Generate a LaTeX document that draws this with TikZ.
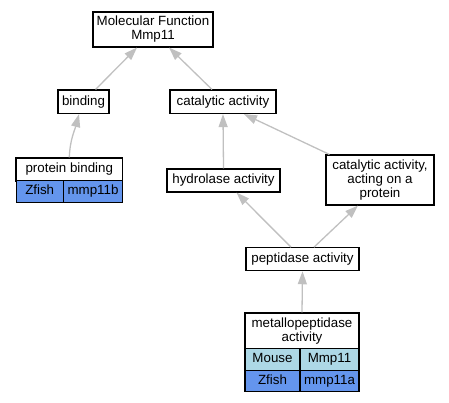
\documentclass[tikz,border=0pt]{standalone}
\usepackage{fontspec}
\setmainfont{Liberation Sans}
\usetikzlibrary{arrows.meta}
\definecolor{edgegray}{RGB}{192,192,192}
\definecolor{mousecol}{RGB}{173,216,230}
\definecolor{zfishcol}{RGB}{100,149,237}
\begin{document}
\begin{tikzpicture}[x=1pt,y=1pt]
\tikzstyle{every node}+=[inner sep=0pt, font=\fontsize{13.33}{14}\selectfont]
\tikzstyle{term}=[draw=black, fill=white, line width=1.1pt, align=center]
\tikzstyle{cell}=[draw=black, line width=1.1pt, minimum height=21.5pt, text height=9.6pt, text depth=2.8pt]
\tikzstyle{isa}=[draw=edgegray, line width=1.3pt, -{Triangle[length=13pt,width=9pt]}]
\useasboundingbox (0,0) rectangle (449,-403);
% terms
\draw (153,-29.5) node [term, minimum width=120pt, minimum height=35pt] (mf) {Molecular Function\\Mmp11};
\draw (83.5,-101.8) node [term, minimum width=51pt, minimum height=23.5pt] (bind) {binding};
\draw (223,-101.8) node [term, minimum width=106pt, minimum height=23.5pt] (cat) {catalytic activity};
\draw (69.3,-169.5) node [term, minimum width=106.7pt, minimum height=23pt] (pb) {protein binding};
\draw (39.7,-191.5) node [cell, fill=zfishcol, minimum width=47.3pt] (pbz) {Zfish};
\draw (93,-191.5) node [cell, fill=zfishcol, minimum width=59.4pt] (pbg) {mmp11b};
\draw (223.5,-180.5) node [term, minimum width=113pt, minimum height=23pt] (hyd) {hydrolase activity};
\draw (380,-180) node [term, minimum width=108pt, minimum height=50pt] (cap) {catalytic activity,\\acting on a\\protein};
\draw (302.5,-259.2) node [term, minimum width=113pt, minimum height=23pt] (pep) {peptidase activity};
\draw (302,-331) node [term, minimum width=114pt, minimum height=36pt] (met) {metallopeptidase\\activity};
\draw (272.5,-359.5) node [cell, fill=mousecol, minimum width=55pt] (metm) {Mouse};
\draw (329.5,-359.5) node [cell, fill=mousecol, minimum width=59pt] (metmg) {Mmp11};
\draw (272.5,-381) node [cell, fill=zfishcol, minimum width=55pt] (metz) {Zfish};
\draw (329.5,-381) node [cell, fill=zfishcol, minimum width=59pt] (metzg) {mmp11a};
% is_a links
\draw [isa] ([xshift=12pt]bind.north) -- ([xshift=-16pt]mf.south);
\draw [isa] ([xshift=-11pt]cat.north) -- ([xshift=16pt]mf.south);
\draw [isa] (pb.north) to [out=88, in=-105] ([xshift=-4.5pt]bind.south);
\draw [isa] (hyd.north) -- (cat.south);
\draw [isa] ([xshift=4pt]cap.north west) -- ([xshift=21pt]cat.south);
\draw [isa] ([xshift=-11.5pt]pep.north) -- ([xshift=13pt]hyd.south);
\draw [isa] ([xshift=11.5pt]pep.north) -- ([xshift=-22pt]cap.south);
\draw [isa] (met.north) -- (pep.south);
\end{tikzpicture}
\end{document}
